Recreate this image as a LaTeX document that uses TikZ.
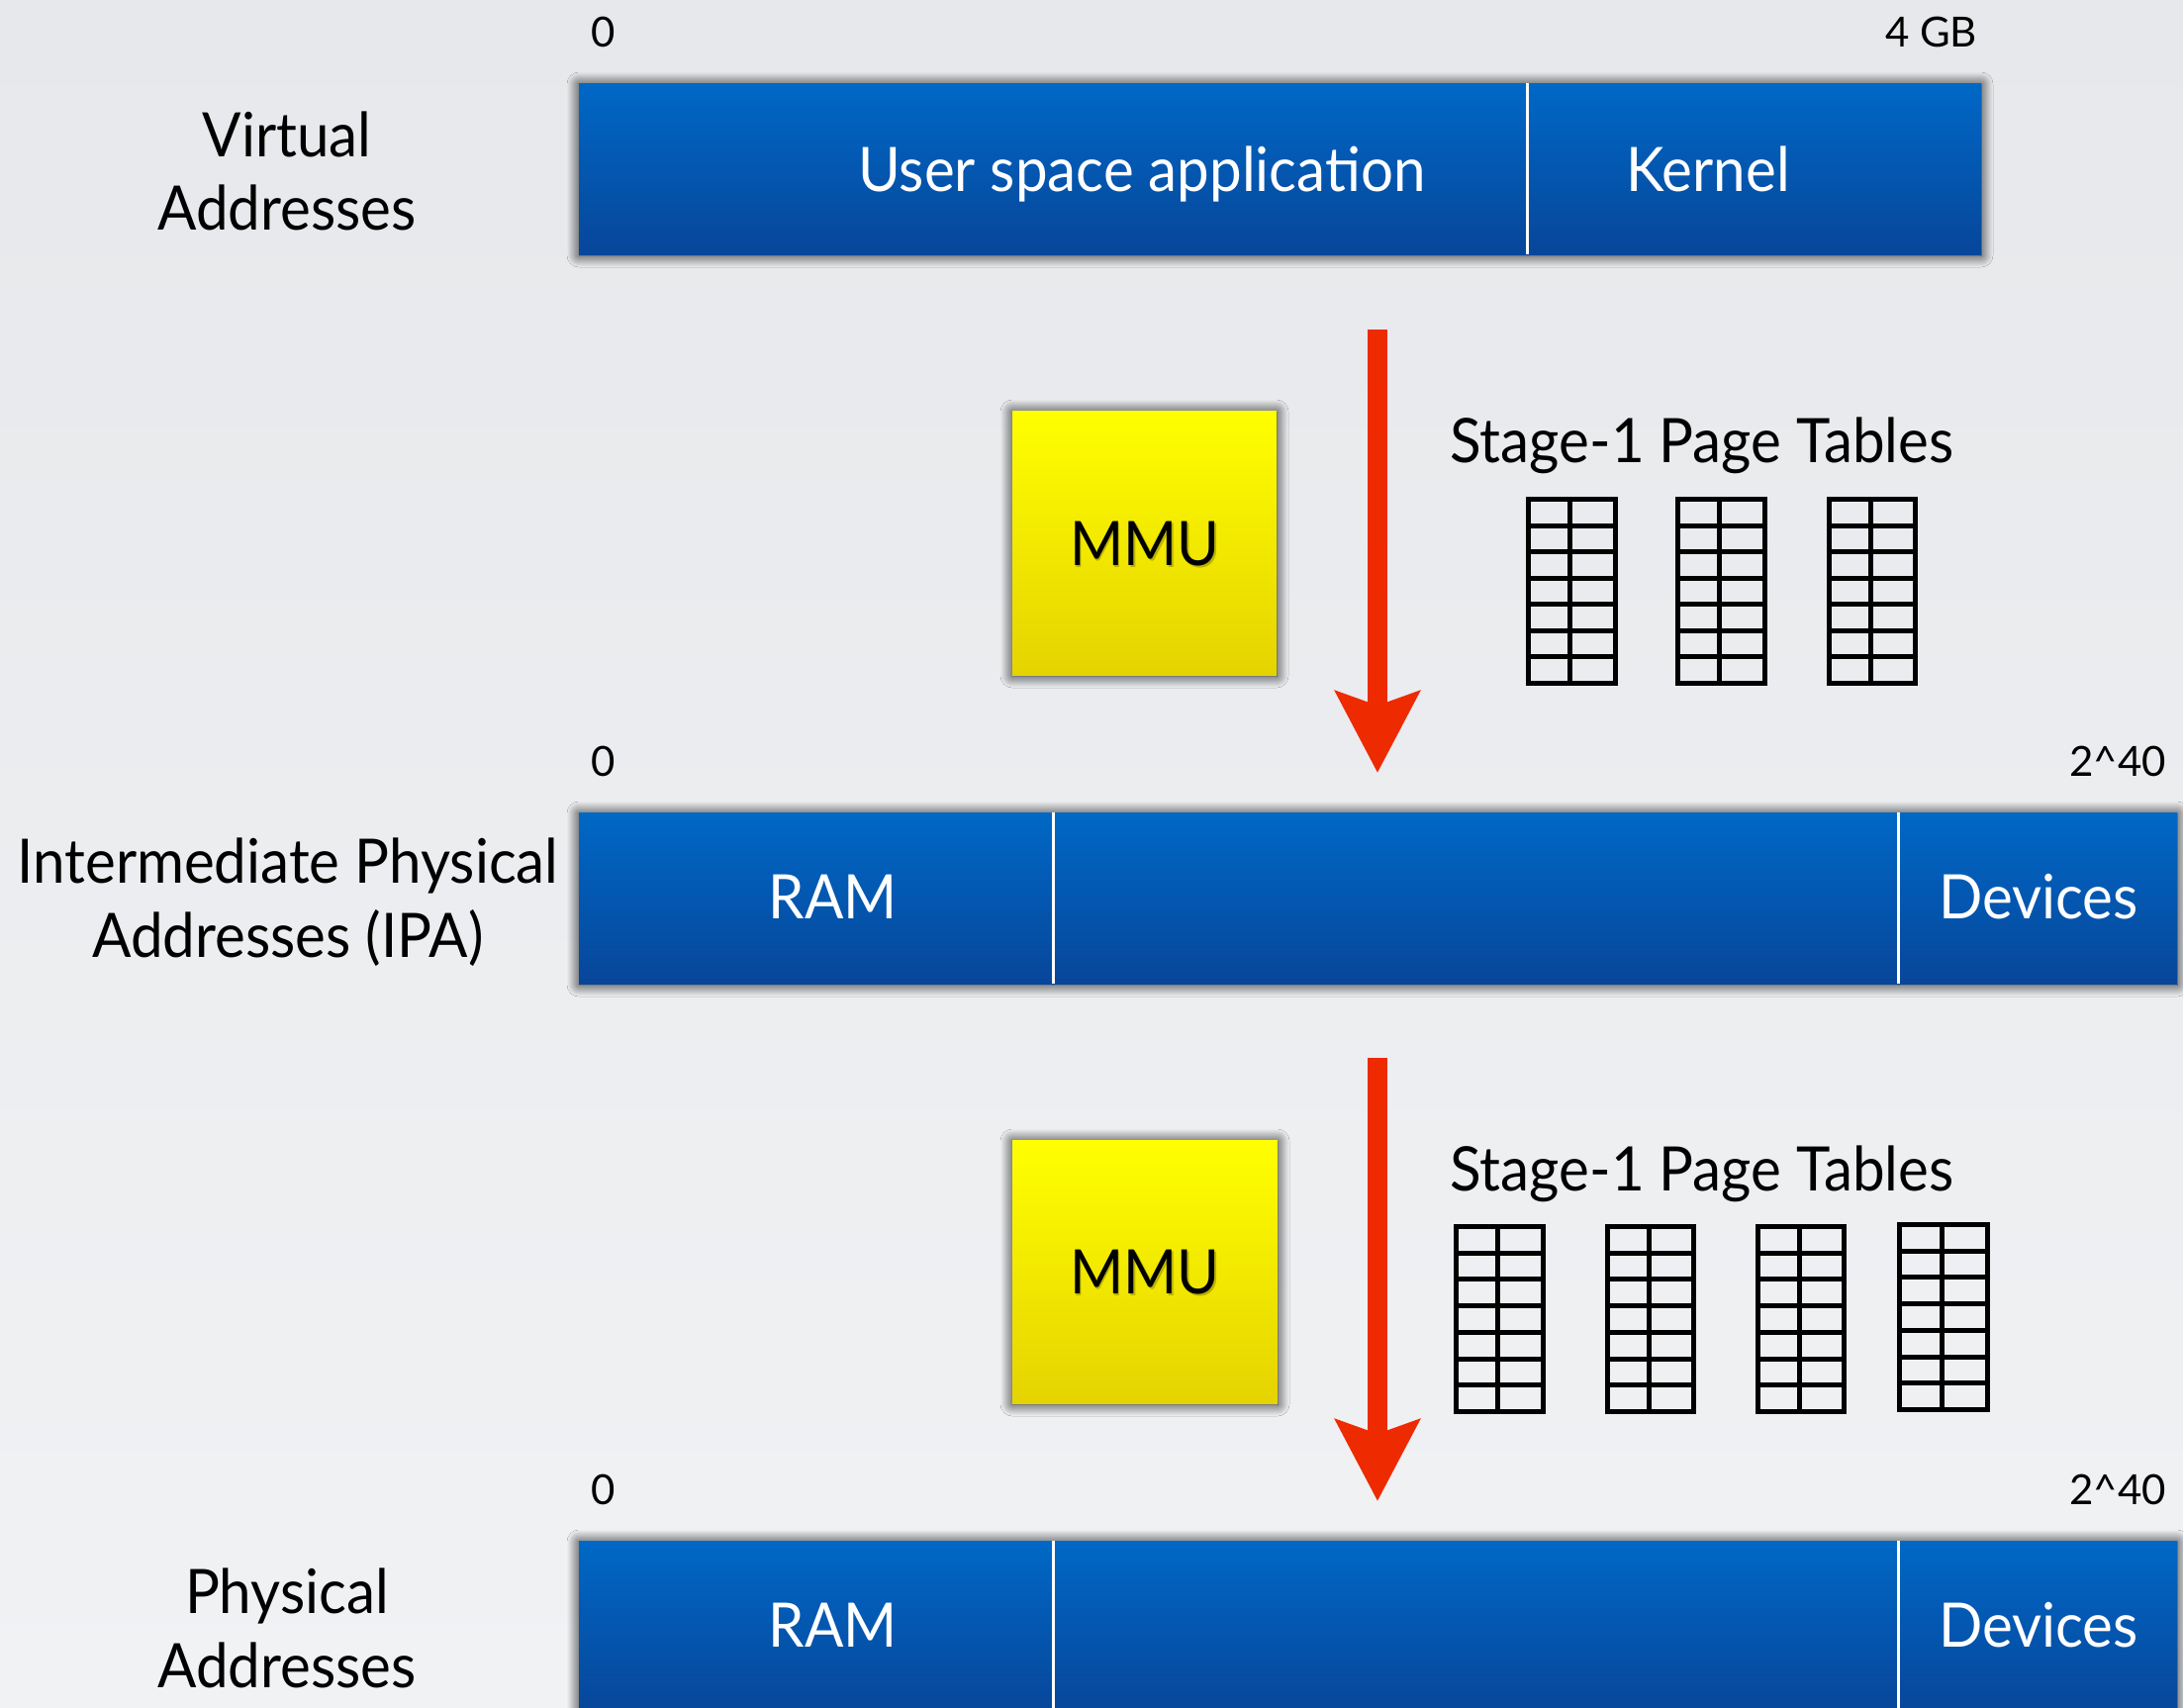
\documentclass[tikz,border=0pt]{standalone}
\usepackage{fontspec}
\newfontfamily\gs[FakeStretch=0.94]{Lato}
\newfontfamily\gssmall{Lato}
\usetikzlibrary{shadows.blur,arrows.meta}

\definecolor{bgtop}{HTML}{E6E8EB}
\definecolor{bgbot}{HTML}{F1F2F4}
\definecolor{bartop}{HTML}{0068C6}
\definecolor{barbot}{HTML}{07469A}
\definecolor{mmutop}{HTML}{FFFF00}
\definecolor{mmubot}{HTML}{E5D300}
\definecolor{arrowred}{HTML}{EE2B00}

\tikzset{
  every node/.style={inner sep=0pt, outer sep=0pt},
  bigtext/.style={font=\gs\fontsize{31}{37}\selectfont, anchor=base},
  smalltext/.style={font=\gssmall\fontsize{21}{25}\selectfont},
  bartext/.style={bigtext, text=white},
  boxsize/.style 2 args={minimum width=#1*0.5pt, minimum height=#2*0.5pt, anchor=north west},
  softshadow/.style={blur shadow={shadow xshift=0pt, shadow yshift=-0.5pt,
      shadow blur radius=6pt, shadow blur steps=14, shadow opacity=90}},
  bar/.style={top color=bartop, bottom color=barbot, draw=none, softshadow},
  mmubox/.style={top color=mmutop, bottom color=mmubot, draw=none, softshadow},
  divider/.style={draw=white, line width=1.5pt},
  maparrow/.style={draw=arrowred, line width=10pt, line cap=butt,
      -{Stealth[length=41pt, width=42pt, inset=7pt]}},
  gridline/.style={draw=black, line width=2.5pt},
}

% one page table: 2 columns x 7 rows, outer box from (#1,#2) to (#3,#4)
\newcommand\pagetable[4]{%
  \draw[gridline] (#1+2.5,#2+2.5) rectangle (#3-2.5,#4-2.5);
  \foreach \r in {1,...,6}{%
    \draw[gridline] (#1+2.5,{#2+2.5+\r*(#4-#2-5)/7}) -- (#3-2.5,{#2+2.5+\r*(#4-#2-5)/7});
  }
  \draw[gridline] ({#1+0.48*(#3-#1)},#2+2.5) -- ({#1+0.48*(#3-#1)},#4-2.5);
}

\begin{document}
\begin{tikzpicture}[x=0.5pt, y=-0.5pt]
  \useasboundingbox (0,0) rectangle (2206,1725);
  \shade[top color=bgtop, bottom color=bgbot] (0,0) rectangle (2206,1725);

  % ---- address space bars ----
  \node[bar, boxsize={1417}{173}] (va) at (585,84) {};
  \node[bar, boxsize={1615}{173}] (ipa) at (585,821) {};
  \node[bar, boxsize={1615}{173}] (pa) at (585,1557) {};
  \clip (0,0) rectangle (2206,1725);

  \draw[divider] (1543,84) -- (1543,257);
  \draw[divider] (1064,821) -- (1064,994);
  \draw[divider] (1918,821) -- (1918,994);
  \draw[divider] (1064,1557) -- (1064,1730);
  \draw[divider] (1918,1557) -- (1918,1730);

  \node[bartext] (user) at (1154,193) {User space application};
  \node[bartext] (kern) at (1726,193) {Kernel};
  \node[bartext] (ramA) at (842,928) {RAM};
  \node[bartext] (devA) at (2060,928) {Devices};
  \node[bartext] (ramB) at (842,1664) {RAM};
  \node[bartext] (devB) at (2060,1664) {Devices};

  % ---- range labels ----
  \node[smalltext, anchor=base west] (vaLo) at (597,47) {0};
  \node[smalltext, anchor=base east] (vaHi) at (1998,47) {4 GB};
  \node[smalltext, anchor=base west] (ipaLo) at (597,784) {0};
  \node[smalltext, anchor=base east] (ipaHi) at (2189,784) {2\textasciicircum40};
  \node[smalltext, anchor=base west] (paLo) at (597,1520) {0};
  \node[smalltext, anchor=base east] (paHi) at (2189,1520) {2\textasciicircum40};

  % ---- side captions ----
  \node[bigtext] (vaCapA) at (290,158) {Virtual};
  \node[bigtext] (vaCapB) at (290,232) {Addresses};
  \node[bigtext] (ipaCapA) at (291,892) {Intermediate Physical};
  \node[bigtext] (ipaCapB) at (291,967) {Addresses (IPA)};
  \node[bigtext] (paCapA) at (290,1630) {Physical};
  \node[bigtext] (paCapB) at (290,1705) {Addresses};

  % ---- translation stages ----
  \node[mmubox, boxsize={267}{267}] (mmuA) at (1023,415) {};
  \node[mmubox, boxsize={268}{266}] (mmuB) at (1023,1152) {};
  \node[bigtext, text=black, opacity=0.22] (mmuAsh) at (1158.5,573.5) {MMU};
  \node[bigtext] (mmuAtxt) at (1157,571) {MMU};
  \node[bigtext, text=black, opacity=0.22] (mmuBsh) at (1158.5,1309.5) {MMU};
  \node[bigtext] (mmuBtxt) at (1157,1307) {MMU};

  \coordinate (arrAfrom) at (1392,333);
  \coordinate (arrAto) at (1392,781);
  \coordinate (arrBfrom) at (1392,1069);
  \coordinate (arrBto) at (1392,1517);
  \draw[maparrow] (arrAfrom) -- (arrAto);
  \draw[maparrow] (arrBfrom) -- (arrBto);

  \node[bigtext] (ptA) at (1720,467) {Stage-1 Page Tables};
  \node[bigtext] (ptB) at (1720,1203) {Stage-1 Page Tables};

  \pagetable{1542}{502}{1635}{693}
  \pagetable{1693}{502}{1786}{693}
  \pagetable{1846}{502}{1938}{693}

  \pagetable{1469}{1237}{1562}{1429}
  \pagetable{1622}{1237}{1714}{1429}
  \pagetable{1774}{1237}{1866}{1429}
  \pagetable{1917}{1235}{2011}{1427}
\end{tikzpicture}
\end{document}
